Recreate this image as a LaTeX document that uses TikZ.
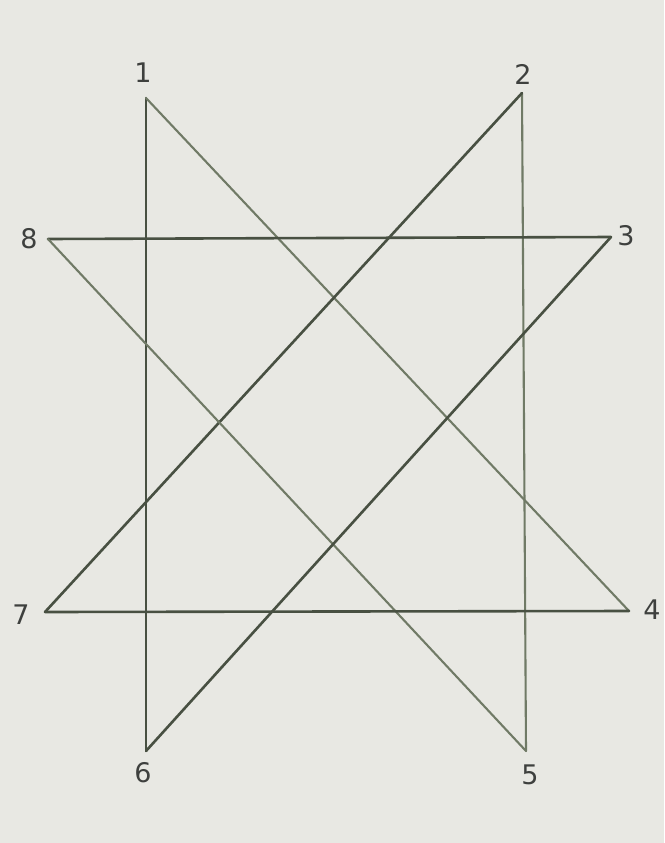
\documentclass[tikz,border=0pt]{standalone}
\usepackage{fontspec}
\setmainfont{DejaVu Sans}
\definecolor{paper}{RGB}{232,232,227}
\definecolor{ink}{RGB}{72,80,66}
\definecolor{inklight}{RGB}{112,122,102}
\definecolor{digit}{RGB}{62,64,62}
\begin{document}
\begin{tikzpicture}[x=1pt,y=-1pt,
  edge/.style={draw=ink,line width=2.6pt,line cap=round},
  edgelight/.style={draw=inklight,line width=2.1pt,line cap=round},
  lbl/.style={text=digit,font=\fontsize{27}{27}\selectfont,inner sep=0pt}]
\fill[paper] (0,0) rectangle (664,843);
\useasboundingbox (0,0) rectangle (664,843);
\coordinate (p1) at (146,98);
\coordinate (p2) at (522,93);
\coordinate (p3) at (611,237);
\coordinate (p4) at (629,611);
\coordinate (p5) at (526,751);
\coordinate (p6) at (146,751);
\coordinate (p7) at (45,612);
\coordinate (p8) at (48,239);
\node[lbl] (l1) at (143,73) {1};
\node[lbl] (l2) at (523,74) {2};
\node[lbl] (l3) at (626,236) {3};
\node[lbl] (l4) at (652,610) {4};
\node[lbl] (l5) at (530,775) {5};
\node[lbl] (l6) at (143,773) {6};
\node[lbl] (l7) at (21,615) {7};
\node[lbl] (l8) at (29,239) {8};
\draw[edge] (p1) -- (p6);
\draw[edgelight] (p1) -- (p4);
\draw[edgelight] (p2) -- (p5);
\draw[edge] (p2) -- (p7);
\draw[edge] (p8) -- (p3);
\draw[edgelight] (p8) -- (p5);
\draw[edge] (p3) -- (p6);
\draw[edge] (p7) -- (p4);
\end{tikzpicture}
\end{document}
